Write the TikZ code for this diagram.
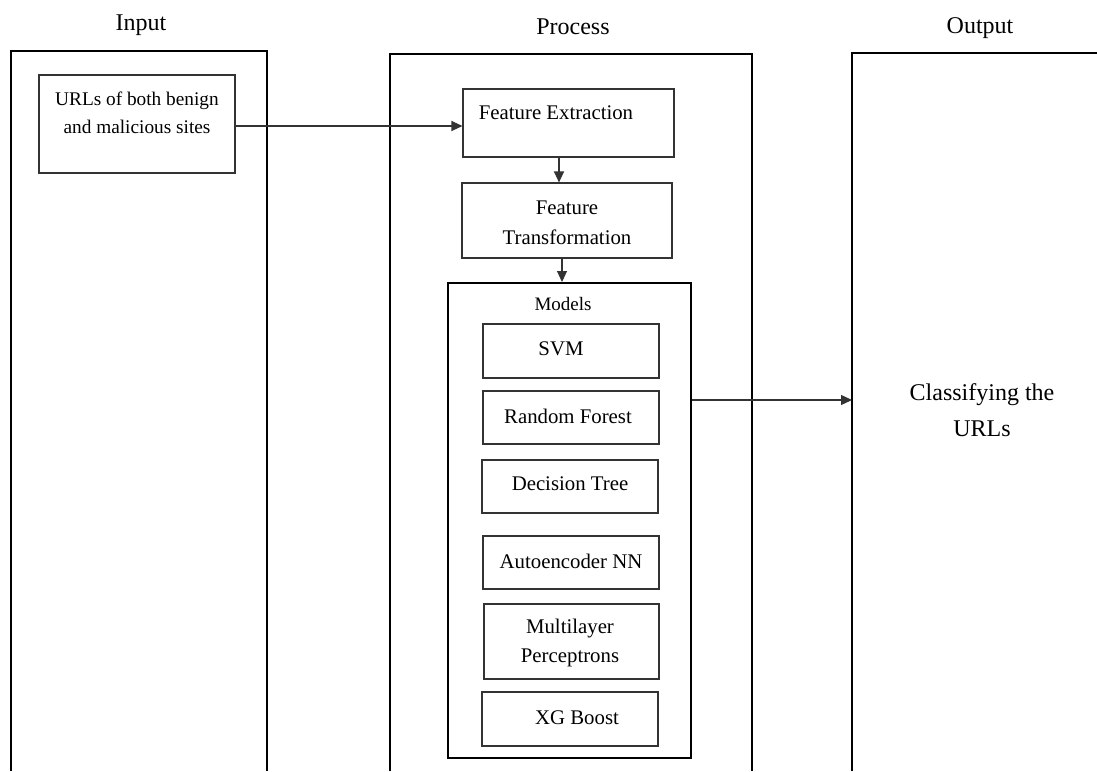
\documentclass[tikz,border=0pt]{standalone}
\usepackage{fontspec}
\setmainfont{Liberation Serif}
\usetikzlibrary{arrows.meta,calc}
\begin{document}
\begin{tikzpicture}[x=1pt,y=-1pt,
  frame/.style={draw=black,line width=2pt},
  box/.style={draw=black!80,line width=1.1pt,inner sep=0pt},
  txt/.style={align=center,font=\fontsize{20.8}{29.5}\selectfont,inner sep=0pt},
  urltxt/.style={align=center,font=\fontsize{19.3}{28.5}\selectfont,inner sep=0pt},
  small/.style={align=center,font=\fontsize{19}{22}\selectfont,inner sep=0pt},
  head/.style={align=center,font=\fontsize{24}{36}\selectfont,inner sep=0pt},
  conn/.style={draw=black!80,line width=1.1pt,-{Triangle[length=11pt,width=10pt]}}]
\useasboundingbox (0,0) rectangle (1097,771);
\fill[white] (0,0) rectangle (1097,771);

% column frames (open at the bottom)
\draw[frame] (11,771) -- (11,51) -- (267,51) -- (267,771);
\draw[frame] (390,771) -- (390,54) -- (752,54) -- (752,771);
\draw[frame] (852,771) -- (852,53) -- (1097,53);
\coordinate (outin) at (852,400);

% headings
\node[head] (hIn) at (141,25) {Input};
\node[head] (hProc) at (573,27) {Process};
\node[head] (hOut) at (980,28) {Output};

% input
\node[box,minimum width=196pt,minimum height=98pt] (URL) at (137,124) {};
\node[urltxt] (tURL) at (137,113) {URLs of both benign\\and malicious sites};

% process
\node[box,minimum width=211pt,minimum height=68pt] (FE) at (568.5,123) {};
\node[txt] (tFE) at (556,113) {Feature Extraction};
\node[box,minimum width=210pt,minimum height=75pt] (FT) at (567,220.5) {};
\node[txt] (tFT) at (567,223) {Feature\\Transformation};

\node[draw=black,line width=2pt,inner sep=0pt,minimum width=243pt,minimum height=475pt] (Models) at (569.5,520.5) {};
\node[small] (tModels) at (563,304) {Models};

\node[box,minimum width=176pt,minimum height=54pt] (SVM) at (571,351) {};
\node[txt] (tSVM) at (561,349) {SVM};
\node[box,minimum width=176pt,minimum height=53pt] (RF) at (571,417.5) {};
\node[txt] (tRF) at (568,416) {Random Forest};
\node[box,minimum width=176pt,minimum height=53pt] (DT) at (570,486.5) {};
\node[txt] (tDT) at (570,484) {Decision Tree};
\node[box,minimum width=176pt,minimum height=53pt] (AE) at (571,562.5) {};
\node[txt] (tAE) at (571,561) {Autoencoder NN};
\node[box,minimum width=175pt,minimum height=75pt] (MLP) at (571.5,641.5) {};
\node[txt] (tMLP) at (570,643) {Multilayer\\Perceptrons};
\node[box,minimum width=176pt,minimum height=54pt] (XG) at (570,719) {};
\node[txt] (tXG) at (577,718) {XG Boost};

% output
\node[head] (tOut) at (982,410) {Classifying the\\URLs};

% connectors
\coordinate (a0) at (0,126);
\coordinate (a1) at (559,0);
\coordinate (a2) at (562,0);
\draw[conn] (URL.east |- a0) -- (FE.west |- a0);
\draw[conn] (a1 |- FE.south) -- (a1 |- FT.north);
\draw[conn] (a2 |- FT.south) -- (a2 |- Models.north);
\draw[conn] (Models.east |- outin) -- (outin);
\end{tikzpicture}
\end{document}
